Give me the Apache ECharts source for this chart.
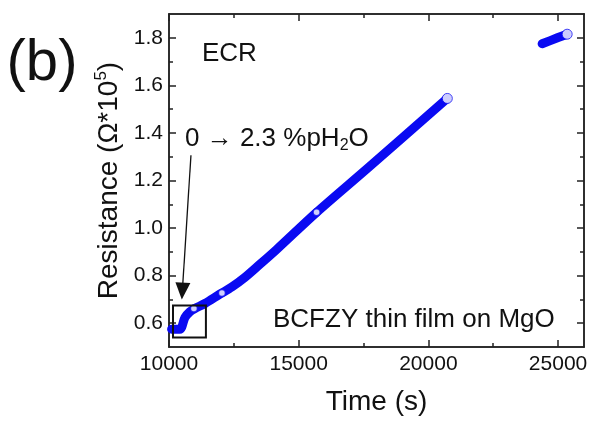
<!DOCTYPE html>
<html>
<head>
<meta charset="utf-8">
<script src="https://cdn.jsdelivr.net/npm/echarts@6/dist/echarts.min.js"></script>
<style>html,body{margin:0;padding:0;background:#fff;}#c{width:594px;height:421px;}</style>
</head>
<body>
<div id="c"></div>
<script>
// ---- data ----
const time1 = [10100, 10420, 10615, 10810, 11000, 11385, 11960, 12420, 12920, 13500, 14150, 15690, 17650, 20730];
const res1  = [0.575, 0.575, 0.624, 0.649, 0.662, 0.683, 0.722, 0.752, 0.792, 0.847, 0.910, 1.066, 1.251, 1.545];
const time2 = [24385, 24700, 25000, 25350];
const res2  = [1.775, 1.788, 1.801, 1.815];
const hollowMidT = [10960, 12040, 15690];
const hollowMidR = [0.662, 0.727, 1.066];
const hollowEndT = [20730, 25350];
const hollowEndR = [1.545, 1.815];
const xMajor = [10000, 15000, 20000, 25000];
const xMinor = [12500, 17500, 22500];
const yMajor = [0.6, 0.8, 1.0, 1.2, 1.4, 1.6, 1.8];
const yMinor = [0.7, 0.9, 1.1, 1.3, 1.5, 1.7];
const boxCorners = [[10154, 0.674], [11423, 0.54]];
const arrowFrom = [10846, 1.306];
const arrowTo = [10515, 0.735];

const FONT = 'Liberation Sans, Arial, sans-serif';
const AX = '#222';
const BLUE = '#0a0af2';

const zip = (a, b) => a.map((v, i) => [v, b[i]]);

function xAx(pos, ticks, len, main) {
  return {
    type: 'value', min: 10000, max: 26000, position: pos,
    axisLine: { show: true, onZero: false, lineStyle: { color: AX, width: 1.5 } },
    axisTick: { show: true, inside: true, length: len, customValues: ticks, lineStyle: { color: AX, width: 1.5 } },
    axisLabel: main ? { show: true, customValues: ticks, fontSize: 21, fontFamily: FONT, color: '#111', margin: 7, formatter: v => String(v) } : { show: false },
    splitLine: { show: false },
    name: main ? 'Time (s)' : '', nameLocation: 'middle', nameGap: 41,
    nameTextStyle: { fontSize: 28, fontFamily: FONT, color: '#111' }
  };
}
function yAx(pos, ticks, len, main) {
  return {
    type: 'value', min: 0.5, max: 1.9, position: pos,
    axisLine: { show: true, onZero: false, lineStyle: { color: AX, width: 1.5 } },
    axisTick: { show: true, inside: true, length: len, customValues: ticks, lineStyle: { color: AX, width: 1.5 } },
    axisLabel: main ? { show: true, customValues: ticks, fontSize: 21, fontFamily: FONT, color: '#111', margin: 6, formatter: v => v.toFixed(1) } : { show: false },
    splitLine: { show: false },
    name: main ? '{a|Resistance (Ω*10}{s|5}{a|)}' : '', nameLocation: 'middle', nameGap: 42, nameRotate: 90,
    nameTextStyle: { fontSize: 28, fontFamily: FONT, color: '#111',
      rich: { a: { fontSize: 28, fontFamily: FONT, color: '#111', lineHeight: 32 },
              s: { fontSize: 17, fontFamily: FONT, color: '#111', verticalAlign: 'top', lineHeight: 17 } } }
  };
}

const chart = echarts.init(document.getElementById('c'), null, { renderer: 'canvas' });
chart.setOption({
  animation: false,
  backgroundColor: '#fff',
  grid: { left: 169, right: 10, top: 14, bottom: 74, containLabel: false, outerBoundsMode: 'none' },
  xAxis: [xAx('bottom', xMajor, 7, true), xAx('top', xMajor, 7, false), xAx('bottom', xMinor, 4, false), xAx('top', xMinor, 4, false)],
  yAxis: [yAx('left', yMajor, 7, true), yAx('right', yMajor, 7, false), yAx('left', yMinor, 4, false), yAx('right', yMinor, 4, false)],
  series: [
    {
      type: 'line', data: zip(time1, res1), xAxisIndex: 0, yAxisIndex: 0,
      symbol: 'none', smooth: 0.3, z: 2,
      lineStyle: { color: BLUE, width: 9, cap: 'round', join: 'round' },
      markArea: {
        silent: true, z: 5,
        itemStyle: { color: 'rgba(0,0,0,0)', borderColor: '#111', borderWidth: 2 },
        label: { show: false },
        data: [[{ coord: boxCorners[0] }, { coord: boxCorners[1] }]]
      },
      markLine: {
        silent: true, z: 5,
        symbol: ['none', 'triangle'], symbolSize: [16, 16],
        lineStyle: { color: '#111', width: 1.3, type: 'solid' },
        label: { show: false },
        data: [[{ coord: arrowFrom, symbol: 'none' }, { coord: arrowTo, symbol: 'triangle', symbolSize: [15, 17] }]]
      }
    },
    {
      type: 'line', data: zip(time2, res2), xAxisIndex: 0, yAxisIndex: 0,
      symbol: 'none', z: 2,
      lineStyle: { color: BLUE, width: 9, cap: 'round', join: 'round' }
    },
    {
      type: 'scatter', data: zip(hollowMidT, hollowMidR), xAxisIndex: 0, yAxisIndex: 0,
      symbol: 'circle', symbolSize: 7, z: 3,
      itemStyle: { color: '#fff', borderColor: BLUE, borderWidth: 1.5 }
    },
    {
      type: 'scatter', data: zip(hollowEndT, hollowEndR), xAxisIndex: 0, yAxisIndex: 0,
      symbol: 'circle', symbolSize: 10, z: 3,
      itemStyle: { color: '#fff', borderColor: BLUE, borderWidth: 1 }
    }
  ],
  graphic: [
    { type: 'text', x: 42, y: 64, style: { text: '(b)', fontSize: 58, fontFamily: FONT, fill: '#111', align: 'center', verticalAlign: 'middle' } },
    { type: 'text', x: 202, y: 54, style: { text: 'ECR', fontSize: 26, fontFamily: FONT, fill: '#111', align: 'left', verticalAlign: 'middle' } },
    { type: 'text', x: 185, y: 139, style: { text: '{a|0 → 2.3 %pH}{b|2}{a|O}', fontSize: 26, fontFamily: FONT, fill: '#111', align: 'left', verticalAlign: 'middle',
        rich: { a: { fontSize: 26, fontFamily: FONT, fill: '#111', lineHeight: 30 }, b: { fontSize: 16, fontFamily: FONT, fill: '#111', verticalAlign: 'bottom', lineHeight: 16 } } } },
    { type: 'text', x: 273, y: 320, style: { text: 'BCFZY thin film on MgO', fontSize: 26, fontFamily: FONT, fill: '#111', align: 'left', verticalAlign: 'middle' } }
  ]
});
</script>
</body>
</html>
